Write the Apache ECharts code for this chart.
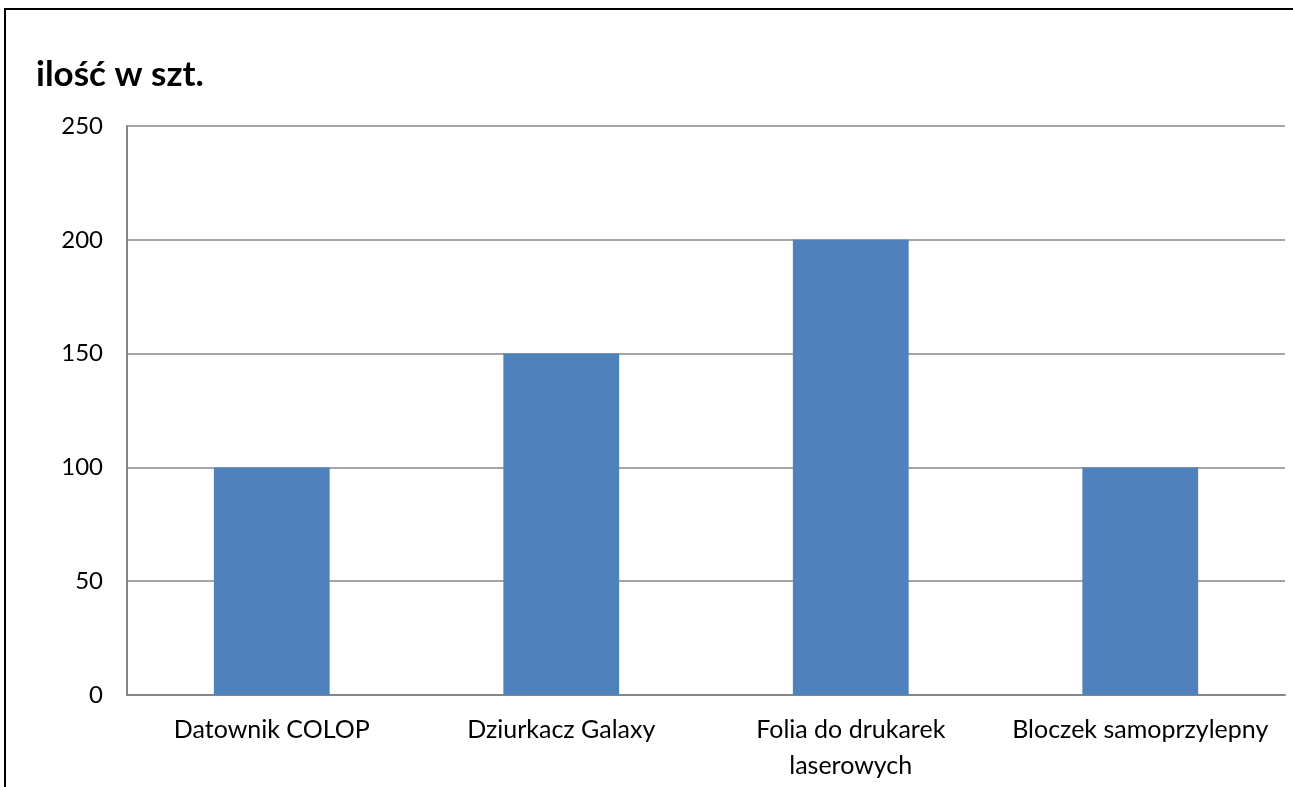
<!DOCTYPE html>
<html><head><meta charset="utf-8">
<script src="https://cdn.jsdelivr.net/npm/echarts@6/dist/echarts.min.js"></script>
<style>html,body{margin:0;padding:0;background:#fff}#c{width:1293px;height:787px}</style>
</head><body><div id="c"></div>
<script>
const categories = ['Datownik COLOP', 'Dziurkacz Galaxy', 'Folia do drukarek\nlaserowych', 'Bloczek samoprzylepny'];
const values = [100, 150, 200, 100];
const yTicks = [0, 50, 100, 150, 200, 250];

const chart = echarts.init(document.getElementById('c'));
chart.setOption({
  animation: false,
  backgroundColor: '#fff',
  graphic: [
    { type: 'rect', shape: { x: 5, y: 9, width: 1400, height: 900 }, style: { fill: 'none', stroke: '#000', lineWidth: 2 }, z: 10 },
    { type: 'text', left: 36, top: 57, style: { text: 'ilość w szt.', font: 'bold 35px Lato, "Open Sans", sans-serif', fill: '#000' } }
  ],
  grid: { left: 127, right: 8, top: 126, bottom: 92 },
  xAxis: {
    type: 'category',
    data: categories,
    axisLine: { lineStyle: { color: '#868686', width: 2 } },
    axisTick: { show: false },
    axisLabel: { color: '#000', fontSize: 25, fontFamily: 'Lato, "Open Sans", sans-serif', margin: 17, lineHeight: 36, interval: 0 }
  },
  yAxis: {
    type: 'value',
    min: yTicks[0], max: yTicks[yTicks.length - 1], interval: 50,
    axisLine: { show: true, lineStyle: { color: '#868686', width: 2 } },
    axisTick: { show: false },
    splitLine: { lineStyle: { color: '#868686', width: 1.5 } },
    axisLabel: { color: '#000', fontSize: 24, fontFamily: 'Lato, "Open Sans", sans-serif', margin: 24 }
  },
  series: [{
    type: 'bar',
    data: values,
    barWidth: '40%',
    itemStyle: { color: '#4F81BD' }
  }]
});
</script></body></html>
